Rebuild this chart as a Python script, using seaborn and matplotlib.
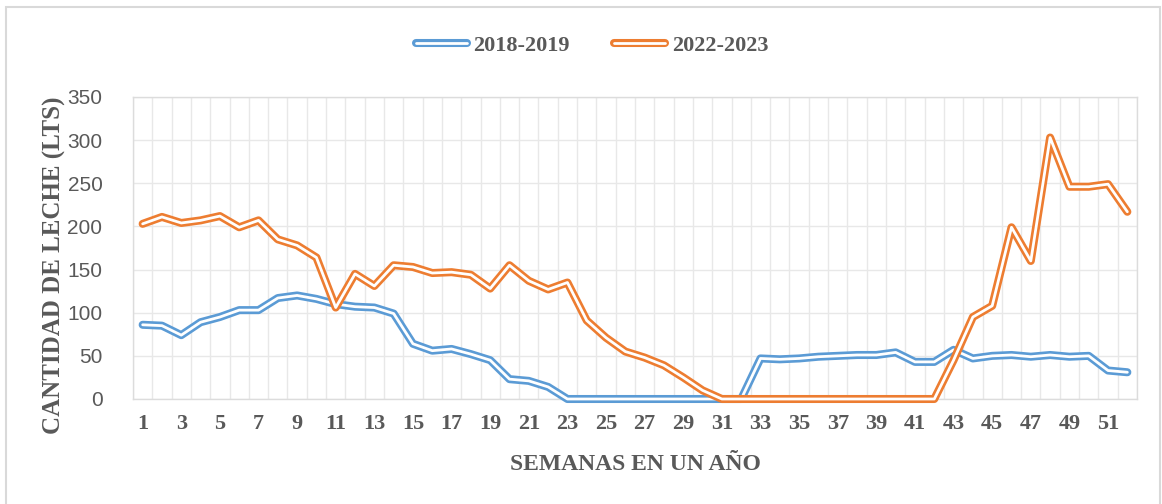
import numpy as np
import pandas as pd
import seaborn as sns
import matplotlib.pyplot as plt
import matplotlib.patheffects as pe
from matplotlib.lines import Line2D
from matplotlib.patches import Rectangle

# Datos (litros por semana)
semanas = list(range(1, 53))
leche_2018_2019 = [86, 85, 74, 89, 95, 103, 103, 117, 120, 116, 110, 107, 106, 99,
                   64, 56, 58, 52, 45, 23, 21, 14,
                   0, 0, 0, 0, 0, 0, 0, 0, 0, 0,
                   47, 46, 47, 49, 50, 51, 51, 54, 43, 43, 57, 47, 50, 51, 49, 51,
                   49, 50, 33, 31]
leche_2022_2023 = [203, 211, 204, 207, 212, 199, 207, 185, 178, 164, 106, 145, 131,
                   155, 153, 146, 147, 144, 128, 155, 137, 127, 135, 91, 71, 55, 48,
                   39, 25, 10, 0,
                   0, 0, 0, 0, 0, 0, 0, 0, 0, 0, 0,
                   45, 95, 108, 199, 160, 303, 246, 246, 249, 217]
periodos = ["2018-2019", "2022-2023"]
colores = ["#5B9BD5", "#ED7D31"]
ticks_y = [0, 50, 100, 150, 200, 250, 300, 350]

df = pd.DataFrame({"semana": semanas,
                   "2018-2019": leche_2018_2019,
                   "2022-2023": leche_2022_2023})
df = df.melt(id_vars="semana", var_name="periodo", value_name="litros")

sns.set_style("white")
gris = "#595959"
serif = "Liberation Serif"

fig = plt.figure(figsize=(11.62, 5.04), dpi=100)
ax = fig.add_axes([133 / 1162, 105 / 504, 1004 / 1162, 302 / 504])

sns.lineplot(data=df, x="semana", y="litros", hue="periodo",
             hue_order=periodos, palette=colores, ax=ax, legend=False,
             linewidth=2.0)

# linea doble estilo Excel: trazo de color con una linea blanca encima
handles = []
for line, c in zip(ax.lines, colores):
    efecto = [pe.Stroke(linewidth=5.8, foreground=c), pe.Normal()]
    line.set_color("white")
    line.set_path_effects(efecto)
    line.set_clip_on(False)
    line.set_zorder(3)
    handles.append(Line2D([], [], color="white", linewidth=2.0, path_effects=efecto))

ax.set_xlim(0.5, 52.5)
ax.set_ylim(0, 350)
ax.set_yticks(ticks_y)
ax.set_xticks(list(range(1, 53, 2)))
ax.set_xticks(np.arange(0.5, 53, 1), minor=True)
ax.grid(which="minor", axis="x", color="#e8e8e8", linewidth=1)
ax.grid(which="major", axis="y", color="#e8e8e8", linewidth=1)
ax.grid(which="major", axis="x", visible=False)
ax.tick_params(which="both", length=0)
ax.tick_params(axis="y", pad=22, labelsize=15, labelcolor=gris)
ax.tick_params(axis="x", pad=11, labelsize=16, labelcolor=gris)
for lab in ax.get_yticklabels():
    lab.set_fontfamily("Liberation Sans")
for lab in ax.get_xticklabels():
    lab.set_fontfamily(serif)
    lab.set_fontweight("bold")
for s in ax.spines.values():
    s.set_color("#dcdcdc")
    s.set_linewidth(1)

ax.set_xlabel("")
ax.set_ylabel("")
fig.text(635 / 1162, 1 - 464 / 504, "SEMANAS EN UN AÑO", ha="center", va="center",
         fontsize=17, fontweight="bold", family=serif, color=gris)
fig.text(54 / 1162, 1 - 265 / 504, "CANTIDAD DE LECHE (LTS)", ha="center", va="center",
         rotation=90, fontsize=18, fontweight="bold", family=serif, color=gris)

ax.legend(handles, periodos, loc="center", bbox_to_anchor=(592 / 1162, 1 - 46 / 504),
          bbox_transform=fig.transFigure, ncol=2, frameon=False, handlelength=2.3,
          columnspacing=2.0, handletextpad=0.3,
          prop={"family": serif, "weight": "bold", "size": 16}, labelcolor=gris)

# borde del area del grafico
fig.patches.append(Rectangle((6 / 1162, -0.1), 1154 / 1162, 1.1 - 7 / 504,
                             transform=fig.transFigure, fill=False,
                             edgecolor="#d9d9d9", linewidth=1.5))

plt.savefig("out.png", dpi=100)
